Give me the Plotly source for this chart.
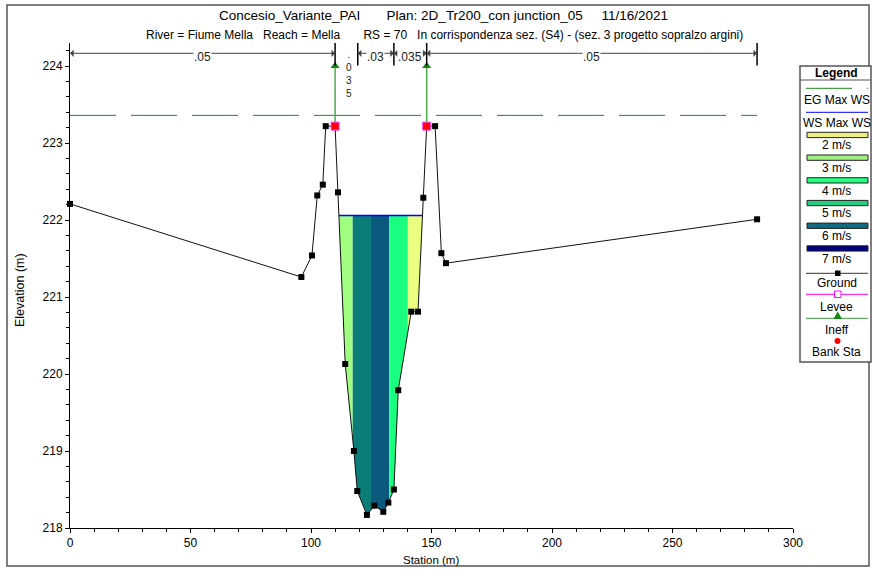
import numpy as np
import plotly.graph_objects as go

# ---------------- data ----------------
ground_sta = [0.0, 96.0, 100.4, 102.6, 104.9, 106.1, 110.0, 111.2, 114.2, 117.8, 119.2,
              123.2, 126.3, 130.0, 132.1, 134.4, 136.2, 141.6, 144.4, 146.6, 148.0,
              151.5, 154.1, 156.0, 285.1]
ground_elev = [222.21, 221.26, 221.54, 222.32, 222.46, 223.22, 223.22, 222.36, 220.13, 219.00, 218.48,
               218.17, 218.29, 218.21, 218.33, 218.50, 219.79, 220.81, 220.81, 222.29, 223.22,
               223.22, 221.57, 221.44, 222.01]
bank_sta = [110.0, 148.0]
bank_elev = [223.22, 223.22]
ineff_elev = [224.0, 224.0]
ws_elev = 222.06
eg_elev = 223.36
slice_edges = [110.0, 117.3, 124.9, 132.5, 140.2, 148.0]
n_sta = [0.0, 110.0, 119.4, 134.4, 148.0, 285.1]
n_val = [".05", ".035", ".03", ".035", ".05"]
legend_vel = ["2 m/s", "3 m/s", "4 m/s", "5 m/s", "6 m/s", "7 m/s"]
x_ticks = [0, 50, 100, 150, 200, 250, 300]
y_ticks = [218, 219, 220, 221, 222, 223, 224]

# ---------------- style ----------------
slice_colors = ["#a0ff80", "#0b7d79", "#0b597c", "#1aff80", "#ebff80"]
legend_colors = ["#f0f080", "#a0f080", "#20ff80", "#20d080", "#106a80", "#000080"]
FONT = "Liberation Sans, Arial, sans-serif"
W, H = 872, 570
PL, PR, PT, PB = 70, 793, 43, 528
XR = [0, 300]
YR = [218, 224.3]


def pxp(p):
    return (p - PL) / (PR - PL)


def pyp(p):
    return (PB - p) / (PB - PT)


def pix2y(p):
    return YR[0] + (PB - p) / (PB - PT) * (YR[1] - YR[0])


gx = np.array(ground_sta)
gy = np.array(ground_elev)

fig = go.Figure()

# ---- velocity slices ----
for k in range(len(slice_edges) - 1):
    a, b = slice_edges[k], slice_edges[k + 1]
    xs = [a, b] + [x for x in ground_sta if a < x < b]
    for i in range(len(gx) - 1):
        y0, y1 = gy[i], gy[i + 1]
        if (y0 - ws_elev) * (y1 - ws_elev) < 0:
            xc = gx[i] + (ws_elev - y0) / (y1 - y0) * (gx[i + 1] - gx[i])
            if a < xc < b:
                xs.append(xc)
    xs = np.array(sorted(xs))
    bot = np.minimum(np.interp(xs, gx, gy), ws_elev)
    px_ = list(xs) + list(xs[::-1])
    py_ = [ws_elev] * len(xs) + list(bot[::-1])
    fig.add_trace(go.Scatter(x=px_, y=py_, fill="toself", fillcolor=slice_colors[k],
                             mode="lines", line=dict(width=0), hoverinfo="skip",
                             showlegend=False))

# ---- WS line ----
xcs = []
for i in range(len(gx) - 1):
    y0, y1 = gy[i], gy[i + 1]
    if (y0 - ws_elev) * (y1 - ws_elev) < 0:
        xc = gx[i] + (ws_elev - y0) / (y1 - y0) * (gx[i + 1] - gx[i])
        if slice_edges[0] <= xc <= slice_edges[-1]:
            xcs.append(xc)
fig.add_trace(go.Scatter(x=[min(xcs), max(xcs)], y=[ws_elev, ws_elev], mode="lines",
                         line=dict(color="#0000ff", width=1.5), hoverinfo="skip", showlegend=False))

# ---- EG line ----
fig.add_trace(go.Scatter(x=[ground_sta[0], ground_sta[-1]], y=[eg_elev, eg_elev], mode="lines",
                         line=dict(color="#1a8a1a", width=1, dash="46px,15px"),
                         hoverinfo="skip", showlegend=False))

# ---- Ineff ----
for s, e, t in zip(bank_sta, bank_elev, ineff_elev):
    fig.add_trace(go.Scatter(x=[s, s], y=[e, t], mode="lines",
                             line=dict(color="#4caf4c", width=1.5), hoverinfo="skip",
                             showlegend=False, cliponaxis=False))
fig.add_trace(go.Scatter(x=bank_sta, y=ineff_elev, mode="markers",
                         marker=dict(symbol="triangle-up", size=8, color="#118811"),
                         hoverinfo="skip", showlegend=False, cliponaxis=False))

# ---- ground ----
fig.add_trace(go.Scatter(x=ground_sta, y=ground_elev, mode="lines+markers",
                         line=dict(color="#111111", width=1),
                         marker=dict(symbol="square", size=6, color="#000000"),
                         hoverinfo="skip", showlegend=False, cliponaxis=False))

# ---- bank stations / levee ----
fig.add_trace(go.Scatter(x=bank_sta, y=bank_elev, mode="markers",
                         marker=dict(symbol="square", size=8, color="#ff0000",
                                     line=dict(color="#ff40ff", width=1)),
                         hoverinfo="skip", showlegend=False, cliponaxis=False))

shapes = []
annotations = []


def ann(**kw):
    kw.setdefault("xanchor", "center")
    kw.setdefault("yanchor", "middle")
    kw.setdefault("showarrow", False)
    annotations.append(kw)


# ---- Manning's n annotation ----
arrow_y = pix2y(53.3)
bar_top = YR[1]
bar_bot = pix2y(65.5)
for s in n_sta[1:]:
    shapes.append(dict(type="line", xref="x", yref="y", x0=s, x1=s, y0=bar_bot, y1=bar_top,
                       line=dict(color="#000000", width=1.5)))
for i, v in enumerate(n_val):
    a, b = n_sta[i], n_sta[i + 1]
    mid = (a + b) / 2
    wpx = (b - a) * (PR - PL) / (XR[1] - XR[0])
    if wpx < 26:
        ann(x=mid + 1.2, y=pix2y(73.7), xref="x", yref="y", text="<br>".join(v),
            font=dict(family=FONT, size=10, color="#222222"))
        continue
    for end in (a, b):
        annotations.append(dict(x=end, y=arrow_y, ax=mid, ay=arrow_y, xref="x", yref="y",
                                axref="x", ayref="y", text="", showarrow=True,
                                arrowhead=1, arrowsize=1.2, arrowwidth=1,
                                arrowcolor="#444444", standoff=0, startstandoff=0))
    ann(x=mid, y=pix2y(56.5), xref="x", yref="y", text=v, bgcolor="#ffffff", borderpad=0,
        font=dict(family=FONT, size=12, color="#222222"))

# ---- titles ----
sp = "&nbsp;"
ann(x=pxp(443), y=pyp(16), xref="paper", yref="paper",
    text="Concesio_Variante_PAI" + sp * 7 + "Plan: 2D_Tr200_con junction_05" + sp * 5 + "11/16/2021",
    font=dict(family=FONT, size=13.5, color="#000000"))
ann(x=pxp(444.5), y=pyp(35), xref="paper", yref="paper",
    text="River = Fiume Mella" + sp * 3 + "Reach = Mella" + sp * 7 + "RS = 70" + sp * 3
         + "In corrispondenza sez. (S4) - (sez. 3 progetto sopralzo argini)",
    font=dict(family=FONT, size=12, color="#000000"))
ann(x=pxp(431), y=pyp(560), xref="paper", yref="paper", text="Station (m)",
    font=dict(family=FONT, size=11.5, color="#000000"))
ann(x=pxp(20), y=pyp(290), xref="paper", yref="paper", text="Elevation (m)", textangle=-90,
    font=dict(family=FONT, size=12.5, color="#000000"))

# ---- outer frame ----
shapes.append(dict(type="rect", xref="paper", yref="paper", x0=pxp(7), x1=pxp(869),
                   y0=pyp(566), y1=pyp(5), line=dict(color="#555555", width=1.5)))

# ---- custom legend ----
LX0, LX1 = 800, 871
shapes.append(dict(type="rect", xref="paper", yref="paper", x0=pxp(LX0), x1=pxp(LX1),
                   y0=pyp(362), y1=pyp(66), line=dict(color="#555555", width=1.5),
                   fillcolor="#ffffff"))
shapes.append(dict(type="line", xref="paper", yref="paper", x0=pxp(LX0), x1=pxp(LX1),
                   y0=pyp(80), y1=pyp(80), line=dict(color="#555555", width=1)))
LC = (LX0 + LX1) / 2 + 1


def ltext(t, y, bold=False):
    ann(x=pxp(LC), y=pyp(y), xref="paper", yref="paper",
        text=("<b>%s</b>" % t) if bold else t,
        font=dict(family=FONT, size=12, color="#000000"))


def lline(y, color, dash="solid", width=1):
    shapes.append(dict(type="line", xref="paper", yref="paper", x0=pxp(806), x1=pxp(868),
                       y0=pyp(y), y1=pyp(y), line=dict(color=color, width=width, dash=dash)))


ltext("Legend", 73.3, bold=True)
lline(88.3, "#1a8a1a", dash="46px,15px")
ltext("EG Max WS", 100)
lline(112.3, "#0000ff")
ltext("WS Max WS", 123.3)
sw_top = 132.3
for i, (lab, col) in enumerate(zip(legend_vel, legend_colors)):
    t = sw_top + i * 22.7
    shapes.append(dict(type="rect", xref="paper", yref="paper", x0=pxp(807), x1=pxp(868),
                       y0=pyp(t + 5.3), y1=pyp(t), fillcolor=col,
                       line=dict(color="#222222", width=1)))
    ltext(lab, t + 13)
# ground
lline(273.3, "#333333")
shapes.append(dict(type="rect", xref="paper", yref="paper", x0=pxp(835), x1=pxp(840.5),
                   y0=pyp(276), y1=pyp(270.5), fillcolor="#000000", line=dict(width=0)))
ltext("Ground", 283.3)
# levee
lline(294.3, "#ff00ff")
shapes.append(dict(type="rect", xref="paper", yref="paper", x0=pxp(834.5), x1=pxp(841),
                   y0=pyp(297.5), y1=pyp(291), fillcolor="#ffffff",
                   line=dict(color="#ff00ff", width=1)))
ltext("Levee", 306.7)
# ineff
lline(318.3, "#3c9a3c")
shapes.append(dict(type="path", xref="paper", yref="paper",
                   path="M %f %f L %f %f L %f %f Z" % (pxp(833.5), pyp(319), pxp(842), pyp(319),
                                                        pxp(837.7), pyp(311.5)),
                   fillcolor="#118811", line=dict(width=0)))
ltext("Ineff", 330)
# bank sta
shapes.append(dict(type="circle", xref="paper", yref="paper", x0=pxp(834.5), x1=pxp(840.5),
                   y0=pyp(344), y1=pyp(338), fillcolor="#ff0000", line=dict(width=0)))
ltext("Bank Sta", 351.7)

fig.update_layout(
    width=W, height=H,
    margin=dict(l=PL, r=W - PR, t=PT, b=H - PB, pad=0),
    paper_bgcolor="#ffffff", plot_bgcolor="#ffffff",
    showlegend=False,
    font=dict(family=FONT, size=11, color="#000000"),
    shapes=shapes, annotations=annotations,
    xaxis=dict(range=XR, tickvals=x_ticks, ticks="outside", ticklen=4, tickwidth=1,
               tickcolor="#000000", showline=True, linecolor="#000000", linewidth=1,
               showgrid=False, zeroline=False,
               tickfont=dict(family=FONT, size=12),
               minor=dict(dtick=10, ticks="outside", ticklen=3, tickcolor="#000000")),
    yaxis=dict(range=YR, tickvals=y_ticks, ticks="outside", ticklen=4, tickwidth=1,
               tickcolor="#000000", showline=True, linecolor="#000000", linewidth=1,
               showgrid=False, zeroline=False,
               tickfont=dict(family=FONT, size=12),
               minor=dict(dtick=0.2, tick0=218, ticks="outside", ticklen=3, tickcolor="#000000")),
)

fig.write_html("out.html", config={"displayModeBar": False},
               post_script="document.body.style.margin='0px';document.body.style.overflow='hidden';")
